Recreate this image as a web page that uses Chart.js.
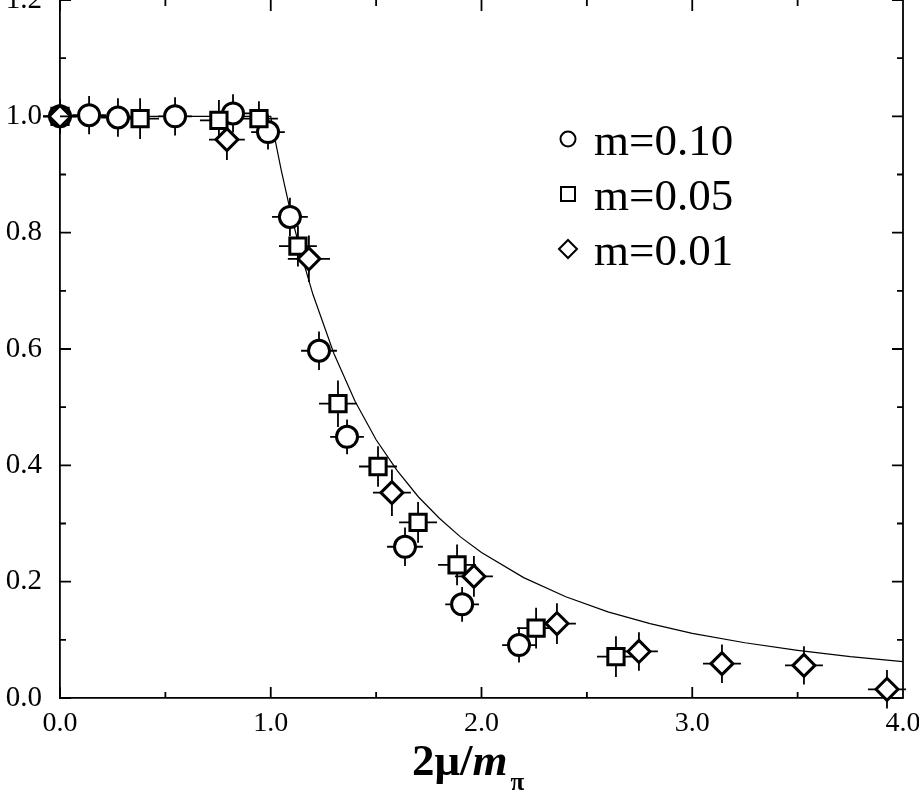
<!DOCTYPE html>
<html>
<head>
<meta charset="utf-8">
<script src="https://cdn.jsdelivr.net/npm/chart.js@4.4.1/dist/chart.umd.min.js"></script>
<style>
  html, body { margin: 0; padding: 0; background: #fff; overflow: hidden; }
  #wrap { position: relative; width: 919px; height: 810px; }
</style>
</head>
<body>
<div id="wrap"><canvas id="chart" width="919" height="810"></canvas></div>
<script>
// values
const circleX = [0.0, 0.138, 0.275, 0.546, 0.821, 0.987, 1.091, 1.229, 1.362, 1.637, 1.908, 2.178];
const circleY = [1.0, 1.002, 0.998, 1.0, 1.005, 0.973, 0.827, 0.597, 0.449, 0.260, 0.161, 0.091];
const circleDX = [0.08, 0.08, 0.08, 0.08, 0.08, 0.08, 0.085, 0.085, 0.08, 0.085, 0.08, 0.08];
const circleDY = [0.03, 0.033, 0.033, 0.033, 0.033, 0.03, 0.033, 0.033, 0.03, 0.033, 0.03, 0.03];

const squareX = [0.0, 0.380, 0.754, 0.944, 1.129, 1.319, 1.509, 1.699, 1.884, 2.259, 2.638];
const squareY = [1.0, 0.996, 0.993, 0.996, 0.777, 0.506, 0.398, 0.302, 0.229, 0.120, 0.071];
const squareDX = [0.08, 0.09, 0.09, 0.09, 0.09, 0.09, 0.09, 0.09, 0.09, 0.09, 0.09];
const squareDY = [0.03, 0.035, 0.035, 0.03, 0.035, 0.04, 0.035, 0.035, 0.035, 0.035, 0.035];

const diamondX = [0.0, 0.792, 1.181, 1.575, 1.964, 2.358, 2.747, 3.141, 3.530, 3.924];
const diamondY = [1.0, 0.960, 0.755, 0.353, 0.209, 0.128, 0.080, 0.059, 0.056, 0.015];
const diamondDX = [0.08, 0.085, 0.1, 0.09, 0.09, 0.09, 0.09, 0.09, 0.09, 0.09];
const diamondDY = [0.03, 0.035, 0.04, 0.04, 0.035, 0.035, 0.033, 0.033, 0.033, 0.033];

const curveX = [0.0, 1.0, 1.02, 1.05, 1.1, 1.15, 1.2, 1.3, 1.4, 1.5, 1.6, 1.7, 1.8, 1.9, 2.0, 2.2, 2.4, 2.6, 2.8, 3.0, 3.25, 3.5, 3.75, 4.0];
const curveY = [1.0, 1.0, 0.961, 0.907, 0.826, 0.756, 0.694, 0.592, 0.510, 0.444, 0.391, 0.346, 0.309, 0.277, 0.250, 0.207, 0.174, 0.148, 0.128, 0.111, 0.095, 0.082, 0.071, 0.0625];

const seriesLabels = ['m=0.10', 'm=0.05', 'm=0.01'];

const SERIF = '"Liberation Serif", "Times New Roman", serif';

function pts(xs, ys) {
    return xs.map((x, i) => ({x: x, y: ys[i]}));
}

// error bars drawn behind the markers
const errorBars = {
    id: 'errorBars',
    beforeDatasetsDraw(chart) {
        const ctx = chart.ctx;
        const xs = chart.scales.x, ys = chart.scales.y;
        ctx.save();
        ctx.strokeStyle = '#000';
        ctx.lineWidth = 1.8;
        chart.data.datasets.forEach(ds => {
            if (!ds.errX) return;
            ds.data.forEach((p, i) => {
                const px = xs.getPixelForValue(p.x), py = ys.getPixelForValue(p.y);
                const x0 = xs.getPixelForValue(p.x - ds.errX[i]);
                const x1 = xs.getPixelForValue(p.x + ds.errX[i]);
                const y0 = ys.getPixelForValue(p.y - ds.errY[i]);
                const y1 = ys.getPixelForValue(p.y + ds.errY[i]);
                ctx.beginPath();
                ctx.moveTo(x0, py); ctx.lineTo(x1, py);
                ctx.moveTo(px, y0); ctx.lineTo(px, y1);
                ctx.stroke();
            });
        });
        ctx.restore();
    }
};

// right border, inward ticks on all sides, legend and axis title
const frame = {
    id: 'frame',
    afterDraw(chart) {
        const ctx = chart.ctx;
        const a = chart.chartArea;
        const xs = chart.scales.x, ys = chart.scales.y;
        ctx.save();
        ctx.strokeStyle = '#000';
        ctx.lineWidth = 1.8;
        ctx.beginPath();
        ctx.moveTo(a.right, a.top); ctx.lineTo(a.right, a.bottom);
        for (let v = 0; v <= 4.001; v += 0.5) {
            const px = xs.getPixelForValue(v);
            const len = Math.abs(v % 1) < 0.01 ? 11 : 6;
            ctx.moveTo(px, a.bottom); ctx.lineTo(px, a.bottom - len);
            ctx.moveTo(px, a.top); ctx.lineTo(px, a.top + len);
        }
        for (let i = 0; i <= 12; i++) {
            const py = ys.getPixelForValue(i / 10);
            const len = i % 2 === 0 ? 11 : 6;
            ctx.moveTo(a.left, py); ctx.lineTo(a.left + len, py);
            ctx.moveTo(a.right, py); ctx.lineTo(a.right - len, py);
        }
        ctx.stroke();

        // legend
        const lx = 568, rows = [139, 194, 249];
        ctx.lineWidth = 2;
        ctx.fillStyle = '#fff';
        ctx.beginPath();
        ctx.arc(lx, rows[0], 7.5, 0, Math.PI * 2);
        ctx.fill(); ctx.stroke();
        ctx.beginPath();
        ctx.rect(lx - 7, rows[1] - 7, 14, 14);
        ctx.fill(); ctx.stroke();
        ctx.beginPath();
        ctx.moveTo(lx - 9, rows[2]); ctx.lineTo(lx, rows[2] - 9);
        ctx.lineTo(lx + 9, rows[2]); ctx.lineTo(lx, rows[2] + 9);
        ctx.closePath();
        ctx.fill(); ctx.stroke();
        ctx.fillStyle = '#000';
        ctx.font = '45px ' + SERIF;
        ctx.textBaseline = 'alphabetic';
        ctx.textAlign = 'left';
        seriesLabels.forEach((t, i) => ctx.fillText(t, 594, rows[i] + 16));

        // x axis title: 2μ/m_π
        let tx = 412;
        const base = 775;
        ctx.font = 'bold 45px ' + SERIF;
        ctx.fillText('2μ/', tx, base);
        tx += ctx.measureText('2μ/').width;
        ctx.font = 'italic bold 45px ' + SERIF;
        ctx.fillText('m', tx, base);
        tx += ctx.measureText('m').width + 3;
        ctx.font = 'bold 25px ' + SERIF;
        ctx.fillText('π', tx, base + 15);
        ctx.restore();
    }
};

new Chart(document.getElementById('chart'), {
    type: 'scatter',
    data: {
        datasets: [
            {
                label: seriesLabels[0],
                data: pts(circleX, circleY),
                errX: circleDX, errY: circleDY,
                pointStyle: 'circle',
                pointRadius: 10.5,
                borderColor: '#000',
                backgroundColor: '#fff',
                borderWidth: 3,
                clip: false,
                order: 3
            },
            {
                label: seriesLabels[1],
                data: pts(squareX, squareY),
                errX: squareDX, errY: squareDY,
                pointStyle: 'rect',
                pointRadius: 11.5,
                borderColor: '#000',
                backgroundColor: '#fff',
                borderWidth: 3,
                clip: false,
                order: 2
            },
            {
                label: seriesLabels[2],
                data: pts(diamondX, diamondY),
                errX: diamondDX, errY: diamondDY,
                pointStyle: 'rectRot',
                pointRadius: 11,
                borderColor: '#000',
                backgroundColor: '#fff',
                borderWidth: 3,
                clip: false,
                order: 1
            },
            {
                label: 'curve',
                type: 'line',
                data: pts(curveX, curveY),
                borderColor: '#000',
                borderWidth: 1.2,
                pointRadius: 0,
                tension: 0,
                fill: false,
                order: 10
            }
        ]
    },
    options: {
        responsive: false,
        animation: false,
        devicePixelRatio: 1,
        layout: { autoPadding: false, padding: { top: 0, right: 16, left: 0, bottom: 0 } },
        plugins: {
            legend: { display: false },
            tooltip: { enabled: false }
        },
        scales: {
            x: {
                type: 'linear',
                min: 0,
                max: 4,
                grid: { display: false, drawTicks: false },
                border: { display: true, color: '#000', width: 1.8 },
                ticks: {
                    stepSize: 1,
                    autoSkip: false,
                    maxRotation: 0,
                    padding: 9,
                    color: '#000',
                    font: { family: SERIF, size: 28 },
                    callback: v => Number(v).toFixed(1)
                },
                afterFit(scale) {
                    scale.height = 112;
                    scale.paddingLeft = 0;
                    scale.paddingRight = 0;
                }
            },
            y: {
                type: 'linear',
                min: 0,
                max: 1.2,
                grid: { display: false, drawTicks: false },
                border: { display: true, color: '#000', width: 1.8 },
                ticks: {
                    stepSize: 0.2,
                    autoSkip: false,
                    padding: 18,
                    color: '#000',
                    font: { family: SERIF, size: 29 },
                    callback: v => Number(v).toFixed(1)
                },
                afterFit(scale) {
                    scale.width = 60;
                    scale.paddingTop = 0;
                    scale.paddingBottom = 0;
                }
            }
        }
    },
    plugins: [errorBars, frame]
});
</script>
</body>
</html>
